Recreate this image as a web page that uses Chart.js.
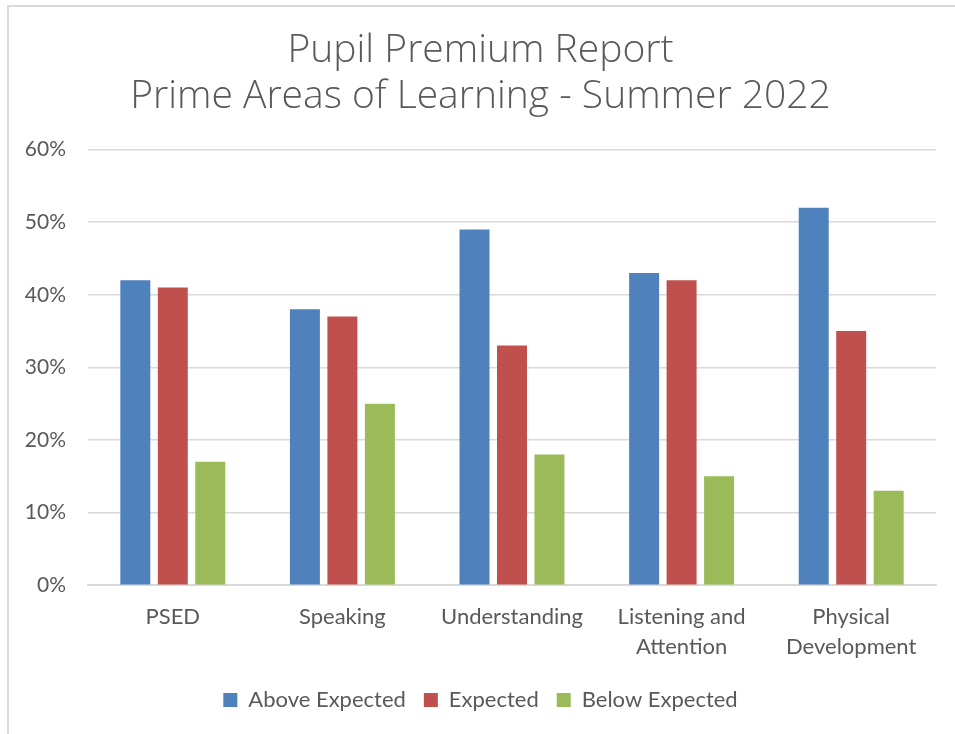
<!DOCTYPE html>
<html>
<head>
<meta charset="utf-8">
<script src="https://cdn.jsdelivr.net/npm/chart.js@4"></script>
<style>
  body { margin: 0; background: #fff; overflow: hidden; }
  #frame { position: absolute; left: 7px; top: 5px; width: 1000px; height: 800px;
           border-left: 2px solid #d9d9d9; border-top: 2px solid #d9d9d9; }
  #wrap { position: absolute; left: 0; top: 0; width: 955px; height: 734px; }
</style>
</head>
<body>
<div id="frame"></div>
<div id="wrap"><canvas id="chart"></canvas></div>
<script>
// categories + series (percent values)
const categories = ["PSED", "Speaking", "Understanding", ["Listening and", "Attention"], ["Physical", "Development"]];
const aboveExpected = [42, 38, 49, 43, 52];
const expected = [41, 37, 33, 42, 35];
const belowExpected = [17, 25, 18, 15, 13];
const titleLines = ["Pupil Premium Report", "Prime Areas of Learning - Summer 2022"];

const textColor = "#595959";
const gridColor = "#d9d9d9";

const ctx = document.getElementById("chart");
new Chart(ctx, {
  type: "bar",
  data: {
    labels: categories,
    datasets: [
      { label: "Above Expected", data: aboveExpected, backgroundColor: "#4f81bd" },
      { label: "Expected", data: expected, backgroundColor: "#c0504d" },
      { label: "Below Expected", data: belowExpected, backgroundColor: "#9bbb59" },
    ],
  },
  options: {
    responsive: true,
    maintainAspectRatio: false,
    animation: false,
    datasets: { bar: { categoryPercentage: 0.663, barPercentage: 0.8 } },
    // title + legend sit a bit right of the plot centre, so pad left more
    layout: { padding: { top: 27, right: 19, left: 25, bottom: 13 } },
    plugins: {
      title: {
        display: true,
        text: titleLines,
        color: textColor,
        font: { family: "'Open Sans', sans-serif", size: 39, weight: "300", lineHeight: 1.2 },
        padding: { top: 0, bottom: 29 },
      },
      legend: {
        position: "bottom",
        labels: {
          color: textColor,
          font: { family: "Lato, sans-serif", size: 22 },
          boxWidth: 14,
          boxHeight: 14,
          padding: 18,
        },
      },
      tooltip: { enabled: false },
    },
    scales: {
      x: {
        grid: { display: false },
        border: { color: gridColor, width: 2 },
        ticks: {
          color: textColor,
          font: { family: "Lato, sans-serif", size: 22, lineHeight: 1.36 },
          padding: 9,
          maxRotation: 0,
        },
      },
      y: {
        min: 0,
        max: 60,
        grid: { color: gridColor, lineWidth: 1.5, drawTicks: false },
        border: { display: false },
        afterFit: (axis) => { axis.width = 63; },
        ticks: {
          stepSize: 10,
          color: textColor,
          font: { family: "Lato, sans-serif", size: 21 },
          padding: 22,
          callback: (v) => v + "%",
        },
      },
    },
  },
});
</script>
</body>
</html>
